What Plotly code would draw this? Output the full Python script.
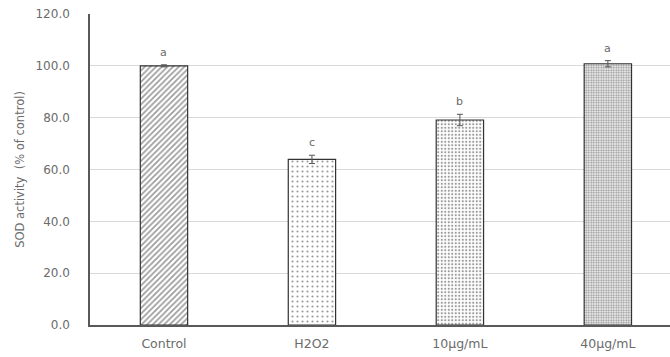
import plotly.graph_objects as go

categories = ["Control", "H2O2", "10µg/mL", "40µg/mL"]
values = [100.0, 63.9, 79.1, 100.8]
errors = [0.4, 1.6, 2.2, 1.2]
letters = ["a", "c", "b", "a"]
y_ticks = [0, 20, 40, 60, 80, 100, 120]

shapes = ["/", ".", ".", "."]
sizes = [4, 5, 3.5, 2.5]
solidity = [0.4, 0.15, 0.3, 0.5]

TXT = "#6b6b6b"
FONT = "DejaVu Sans, sans-serif"

fig = go.Figure()
fig.add_trace(go.Bar(
    x=categories, y=values,
    width=0.32,
    marker=dict(
        color="white",
        line=dict(color="#333333", width=1.2),
        pattern=dict(shape=shapes, size=sizes, solidity=solidity,
                     fgcolor="#333333", bgcolor="white", fillmode="overlay"),
    ),
    error_y=dict(type="data", array=errors, visible=True, color="#555555",
                 thickness=1, width=3),
    showlegend=False,
))

for c, v, e, l in zip(categories, values, errors, letters):
    fig.add_annotation(x=c, y=v + e, text=l, showarrow=False, yanchor="bottom",
                       yshift=4, font=dict(family=FONT, size=11, color=TXT))

fig.update_layout(
    width=670, height=357,
    margin=dict(l=90, r=0, t=14, b=32),
    paper_bgcolor="white", plot_bgcolor="white",
    font=dict(family=FONT, color=TXT, size=11),
    xaxis=dict(range=[-0.5, 3.42], showline=True, linecolor="#595959", linewidth=1.5,
               ticks="", ticklabelstandoff=6,
               tickfont=dict(family=FONT, size=12.5, color=TXT), showgrid=False),
    yaxis=dict(range=[0, 120], tickvals=y_ticks, tickformat=".1f",
               showline=True, linecolor="#595959", linewidth=1.5,
               gridcolor="#d9d9d9", gridwidth=1, zeroline=False,
               ticks="", ticklabelstandoff=16,
               tickfont=dict(family=FONT, size=12, color=TXT),
               title=dict(text="SOD activity  (% of control)", standoff=8,
                          font=dict(family=FONT, size=11.5, color=TXT))),
)

fig.write_html("out.html")
